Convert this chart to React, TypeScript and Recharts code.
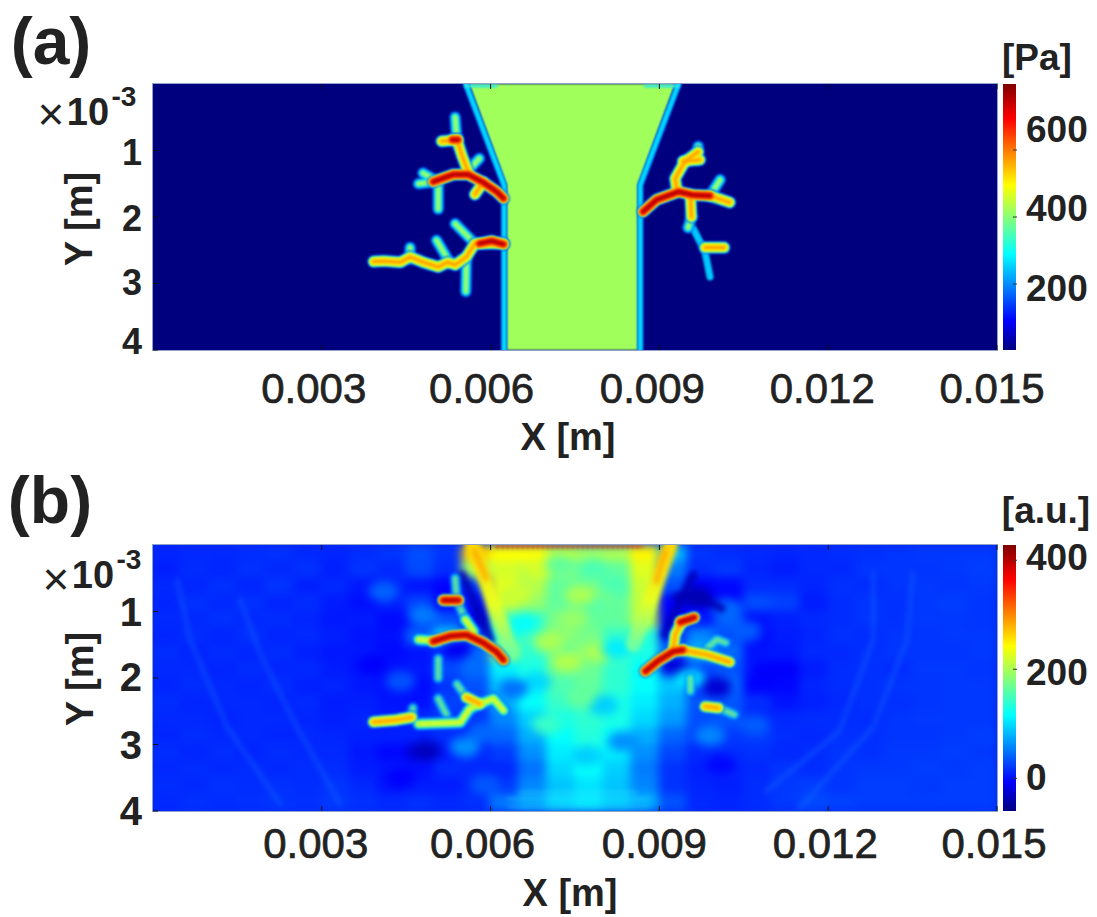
import { Area, ComposedChart, Line, Scatter, XAxis, YAxis } from 'recharts';

// all x values are in mm, the tick formatter turns them back into metres
const xTicks = [3, 6, 9, 12, 15];
const yTicks = [1, 2, 3, 4];

type Pt = [number, number];

// ---- panel (a) ----
const plumeA: Pt[] = [[5.62, 0], [6.28, 1.52], [6.28, 4], [8.62, 4], [8.62, 1.52], [9.28, 0]];
const plumeEdgeLeftA: Pt[] = [[5.56, 0], [6.24, 1.52], [6.24, 4]];
const plumeEdgeRightA: Pt[] = [[9.34, 0], [8.66, 1.52], [8.66, 4]];
const plumeTopLeftA: Pt[] = [[5.56, 0.03], [6.1, 0.03]];
const plumeTopRightA: Pt[] = [[8.75, 0.03], [9.34, 0.03]];

const hotA: Pt[][] = [
  [[4.98, 1.47], [5.34, 1.36], [5.6, 1.36], [5.87, 1.48], [6.11, 1.62], [6.23, 1.72]],
  [[8.71, 1.92], [8.95, 1.74], [9.34, 1.62], [9.6, 1.67], [9.9, 1.68]],
  [[5.32, 0.84], [5.42, 0.84]],
  [[5.8, 2.4], [6.02, 2.36], [6.23, 2.41]],
];
const warmA: Pt[][] = [
  [[5.4, 0.84], [5.49, 1.07], [5.6, 1.32]],
  [[5.87, 1.48], [5.72, 1.66]],
  [[6.23, 2.4], [5.72, 2.4], [5.57, 2.6], [5.37, 2.72], [5.24, 2.68], [5.07, 2.75], [4.8, 2.68], [4.57, 2.6], [4.4, 2.68], [4.1, 2.66], [3.92, 2.67]],
  [[9.9, 1.68], [10.25, 1.78]],
  [[9.31, 1.59], [9.28, 1.42], [9.45, 1.17], [9.69, 1.02]],
  [[9.42, 1.16], [9.72, 1.14]],
  [[9.55, 1.67], [9.57, 2.0]],
  [[9.81, 2.46], [10.15, 2.46]],
  [[5.13, 0.86], [5.4, 0.84]],
];
const coolA: Pt[][] = [
  [[5.37, 0.5], [5.4, 0.84]],
  [[4.72, 1.5], [5.0, 1.47]],
  [[4.8, 1.34], [4.98, 1.43]],
  [[5.07, 1.5], [5.07, 1.88]],
  [[5.37, 2.1], [5.72, 2.4]],
  [[5.04, 2.35], [5.25, 2.65]],
  [[4.57, 2.46], [4.57, 2.62]],
  [[5.57, 2.6], [5.56, 3.12]],
  [[9.9, 1.68], [10.08, 1.44]],
  [[9.69, 0.94], [9.66, 1.14]],
  [[9.57, 2.0], [9.51, 2.16]],
  [[5.6, 1.3], [5.8, 1.12]],
];
const faintA: Pt[][] = [
  [[9.6, 2.17], [9.81, 2.52], [9.9, 2.9]],
];

// ---- panel (b) ----
// a.u. readings on a 0.5 mm x 0.25 grid, one row per depth
const heatRows: number[][] = [
  [18, 20, 20, 22, 24, 20, 18, 22, 26, 38, 26, 270, 245, 245, 215, 200, 205, 250, 90, 26, 22, 20, 18, 20, 22, 24, 26, 28, 28, 28],
  [16, 22, 18, 24, 20, 24, 16, 26, 20, 36, 22, 200, 225, 215, 190, 175, 170, 230, 60, 22, 28, 18, 14, 20, 20, 26, 26, 26, 28, 30],
  [20, 18, 24, 18, 26, 16, 20, 12, 18, 10, 2, 30, 230, 210, 170, 170, 150, 220, 40, 0, 4, 22, 22, 18, 24, 22, 26, 28, 26, 28],
  [18, 24, 20, 24, 18, 22, 14, 8, 16, 32, 0, 10, 220, 195, 170, 165, 170, 215, 0, -5, 0, 38, 32, 14, 22, 26, 24, 28, 30, 26],
  [20, 20, 24, 20, 22, 18, 12, 14, 6, 8, 40, -10, 160, 150, 180, 170, 170, 210, -5, 12, 48, 10, 16, 20, 22, 26, 24, 28, 28, 26],
  [18, 22, 18, 24, 18, 20, 16, 10, 8, 48, 100, 30, 135, 155, 190, 180, 150, 140, 22, 65, 38, 6, 14, 18, 24, 22, 26, 26, 28, 28],
  [22, 18, 22, 18, 22, 16, 12, 12, 6, 10, 22, 52, 200, 145, 170, 190, 160, 135, 52, 95, 52, 10, 12, 20, 20, 24, 26, 26, 26, 28],
  [20, 20, 18, 22, 18, 20, 14, 10, 10, 12, 36, 52, 115, 135, 170, 175, 145, 125, 52, 32, 42, 12, 0, 14, 22, 24, 22, 28, 28, 26],
  [18, 22, 20, 18, 22, 16, 18, 12, 8, 6, 26, 40, 100, 125, 160, 170, 145, 125, 95, 22, 52, 2, 4, 18, 22, 24, 26, 26, 28, 28],
  [22, 18, 20, 20, 18, 20, 14, 16, 10, 8, 32, 32, 85, 125, 150, 155, 135, 115, 85, 42, 42, 22, 10, 16, 20, 24, 24, 26, 28, 28],
  [20, 20, 18, 20, 20, 18, 16, 18, 12, 22, 28, 26, 65, 100, 135, 145, 135, 105, 75, 38, 42, 18, 20, 22, 22, 22, 26, 28, 28, 28],
  [18, 22, 20, 20, 18, 20, 18, 16, 16, 16, 22, 26, 50, 85, 125, 140, 125, 85, 50, 32, 28, 30, 22, 20, 24, 24, 26, 26, 28, 30],
  [22, 18, 22, 18, 22, 20, 20, 12, 4, -15, 12, 20, 30, 70, 115, 130, 115, 70, 35, 20, 22, 24, 20, 22, 26, 24, 28, 28, 30, 28],
  [20, 22, 20, 22, 20, 22, 22, 14, 12, 8, 22, 20, 20, 55, 105, 125, 100, 60, 25, 16, 18, 20, 26, 22, 26, 28, 28, 30, 28, 30],
  [22, 20, 24, 22, 24, 22, 26, 20, 10, 14, 14, 20, 28, 65, 95, 110, 95, 65, 25, 18, 16, 22, 28, 30, 26, 30, 30, 28, 30, 30],
  [20, 24, 22, 24, 26, 24, 28, 24, 20, 24, 20, 24, 58, 80, 105, 115, 100, 85, 40, 20, 18, 22, 28, 36, 32, 30, 30, 30, 30, 30],
];

// small patches read on top of the coarse grid: x, y, a.u.
const patchesB: [number, number, number][] = [
  [6.46, 0.75, 220], [7.03, 1.46, 205], [7.35, 1.76, 208], [7.94, 1.61, 205], [7.59, 0.75, 205],
  [8.06, 0.65, 185], [6.88, 0.35, 225], [7.47, 1.1, 195], [6.58, 1.18, 125], [6.82, 2.06, 105],
  [8.24, 1.56, 115], [8.0, 2.41, 100], [7.71, 3.17, 100], [7.23, 0.3, 170], [7.83, 0.35, 160],
  [6.4, 2.16, 55], [8.18, 0.6, 160], [5.4, 1.56, -5], [4.86, 3.09, -30], [10.02, 2.14, -20],
  [9.66, 0.78, -35], [9.25, 1.81, -15], [4.8, 1.06, 60], [5.87, 2.82, 50], [5.54, 3.04, 70],
  [9.9, 2.87, 65], [9.54, 2.01, 110], [7.0, 2.7, 150], [7.6, 2.3, 170], [8.35, 2.95, 70],
  [10.2, 0.95, 50], [10.55, 1.3, 45], [4.1, 0.7, 48], [3.9, 1.8, 0], [4.4, 2.05, 40],
  [10.9, 1.9, 0], [10.7, 2.7, 45], [4.4, 3.5, 0], [10.1, 3.3, 4], [5.9, 3.6, 42],
];

const wedgeLeftB: Pt[] = [[5.68, 0], [6.36, 1.6]];
const wedgeRightB: Pt[] = [[9.2, 0], [8.54, 1.5]];
const shadowLeftB: Pt[] = [[5.5, 0.45], [6.0, 1.42]];
const shadowRightB: Pt[] = [[9.6, 0.45], [9.1, 1.35]];
const shadowArcB: Pt[] = [[9.3, 0.78], [9.7, 0.78], [10.1, 0.95]];
const accentLeftB: Pt[] = [[5.72, 0.1], [5.92, 0.5]];
const accentRightB: Pt[] = [[9.1, 0.1], [8.95, 0.55]];
const dottedTopB: Pt[] = [[6.1, 0.025], [8.7, 0.025]];

const ripplesB: Pt[][] = [
  [[0.43, 0.53], [0.66, 1.43], [1.32, 2.74], [2.26, 3.89]],
  [[1.55, 0.83], [1.9, 1.63], [2.56, 2.74], [3.32, 3.89]],
  [[13.5, 0.42], [13.4, 1.43], [12.8, 2.74], [11.5, 3.95]],
  [[12.8, 0.42], [12.8, 1.43], [12.2, 2.8], [10.9, 3.7]],
];
const stripesB: Pt[][] = [
  [[6.5, 3.72], [8.6, 3.72]],
  [[6.3, 3.82], [8.8, 3.82]],
  [[6.3, 3.94], [8.8, 3.94]],
];

const hotB: Pt[][] = [
  [[4.98, 1.45], [5.28, 1.37], [5.57, 1.35], [5.87, 1.47], [6.11, 1.61], [6.23, 1.73]],
  [[5.16, 0.83], [5.43, 0.83]],
  [[8.75, 1.9], [8.98, 1.74], [9.25, 1.6], [9.42, 1.58]],
  [[9.37, 1.16], [9.62, 1.09]],
];
const warmB: Pt[][] = [
  [[3.92, 2.66], [4.33, 2.63], [4.6, 2.59]],
  [[9.42, 1.58], [9.85, 1.65], [10.25, 1.76]],
  [[9.25, 1.55], [9.28, 1.35], [9.4, 1.15]],
  [[5.57, 2.29], [5.81, 2.39]],
  [[9.81, 2.43], [10.05, 2.45]],
];
const mildB: Pt[][] = [
  [[4.72, 2.69], [5.46, 2.67], [5.63, 2.46], [5.81, 2.39], [6.05, 2.31], [6.23, 2.49]],
  [[4.72, 1.42], [5.05, 1.44]],
  [[5.55, 1.12], [5.7, 1.3]],
];
const coolB: Pt[][] = [
  [[5.37, 0.5], [5.4, 0.83], [5.55, 1.12]],
  [[5.4, 2.09], [5.57, 2.29]],
  [[5.07, 2.31], [5.22, 2.56]],
  [[5.07, 1.71], [5.07, 2.0]],
  [[9.85, 1.55], [10.02, 1.42], [10.18, 1.47]],
  [[9.55, 2.0], [9.55, 2.2]],
  [[10.05, 2.45], [10.33, 2.55]],
  [[4.6, 2.59], [4.62, 2.45]],
];

// colour bars
const barATicks = [200, 400, 600];
const barBTicks = [0, 200, 400];
const barADomain: Pt = [3, 797];
const barBDomain: Pt = [-60, 428];
const jetStops: [number, string][] = [
  [0, '#00007f'], [0.11, '#0000ff'], [0.36, '#00ffff'], [0.62, '#ffff00'], [0.87, '#ff0000'], [1, '#7f0000'],
];

const FONT = '"Liberation Sans", Arial, sans-serif';
const INK = '#222';
const PLOT_LEFT = 153;
const PLOT_RIGHT = 997;
const PLOT_H = 266;

const toXY = (pts: Pt[]) => pts.map(([x, y]) => ({ x, y }));
const toBand = (pts: Pt[]) => pts.map(([x, y]) => ({ x, r: [0, y] }));

const jet = (v: number) => {
  const t = Math.min(1, Math.max(0, (v + 60) / 488));
  const ch = (c: number) => Math.round(255 * Math.min(1, Math.max(0, c)));
  const r = 1.5 - Math.abs(4 * t - 3);
  const g = 1.5 - Math.abs(4 * t - 2);
  const b = 1.5 - Math.abs(4 * t - 1);
  return `rgb(${ch(r)},${ch(g)},${ch(b)})`;
};

const heatCells = heatRows.flatMap((row, i) =>
  row.map((v, j) => ({ x: 0.25 + j * 0.5, y: 0.125 + i * 0.25, v })),
);
// repeat the first and last depth past the frame so the blur keeps its colour at the edge
const heatPad = [
  ...heatRows[0].map((v, j) => ({ x: 0.25 + j * 0.5, y: -0.125, v })),
  ...heatRows[15].map((v, j) => ({ x: 0.25 + j * 0.5, y: 4.125, v })),
];
const patchPoints = patchesB.map(([x, y, v]) => ({ x, y, v }));

const Txt = ({ left, top, size, children, rotate, weight = 700 }: any) => (
  <div
    style={{
      position: 'absolute', left, top, fontFamily: FONT, fontSize: size, fontWeight: weight, color: INK,
      lineHeight: 1, whiteSpace: 'nowrap', transform: `translate(-50%,-50%)${rotate ? ` rotate(${rotate}deg)` : ''}`,
    }}
  >
    {children}
  </div>
);

const lines = (sets: Pt[][], stroke: string, strokeWidth: number, prefix: string, opacity = 1) =>
  sets.map((pts, i) => (
    <Line
      key={`${prefix}-${i}`}
      data={toXY(pts)}
      dataKey="y"
      stroke={stroke}
      strokeWidth={strokeWidth}
      strokeOpacity={opacity}
      strokeLinecap="round"
      strokeLinejoin="round"
      dot={false}
      activeDot={false}
      isAnimationActive={false}
    />
  ));

const branchLayers = (hot: Pt[][], warm: Pt[][], mild: Pt[][], cool: Pt[][], coolAlpha: number) => {
  const warmAll = [...hot, ...warm];
  const strong = [...warmAll, ...mild];
  return (
    <>
      {lines(cool, '#0060ff', 12, 'coolhalo', 0.7 * coolAlpha)}
      {lines(cool, '#00d8ff', 9, 'coolcyan', coolAlpha)}
      {lines(cool, '#90ff70', 5, 'coolcore', coolAlpha)}
      {lines(strong, '#0060ff', 13, 'halo', 0.8)}
      {lines(strong, '#00d8ff', 10, 'cyan')}
      {lines(mild, '#90ff60', 7, 'mildcore')}
      {lines(mild, '#e0ff20', 3, 'mildmid')}
      {lines(warmAll, '#a8ff50', 9.5, 'green')}
      {lines(warmAll, '#ffe800', 7, 'yellow')}
      {lines(warm, '#ffa000', 3, 'warmcore')}
      {lines(hot, '#ff9000', 9, 'orange')}
      {lines(hot, '#f01000', 6, 'red')}
      {lines(hot, '#a00000', 2, 'dark')}
    </>
  );
};

const makeXTick = (top: number, labelY: number, dx: number[]) => ({ x, payload, index }: any) => (
  <g>
    <line x1={x} x2={x} y1={top} y2={top + 5} stroke="#111" />
    <line x1={x} x2={x} y1={top + PLOT_H - 5} y2={top + PLOT_H} stroke="#111" />
    <text
      x={x + dx[index]}
      y={labelY}
      textAnchor="middle"
      dominantBaseline="central"
      fontFamily={FONT}
      fontWeight={400}
      fontSize={42}
      fill={INK}
      stroke={INK}
      strokeWidth={0.7}
    >
      {(payload.value / 1000).toFixed(3)}
    </text>
  </g>
);

const makeYTick = (labelY: number[], size: number) => ({ y, payload, index }: any) => (
  <g>
    <line x1={PLOT_LEFT} x2={PLOT_LEFT + 5} y1={y} y2={y} stroke="#111" />
    <text x={142} y={labelY[index]} textAnchor="end" dominantBaseline="central" fontFamily={FONT} fontWeight={700} fontSize={size} fill={INK}>
      {payload.value}
    </text>
  </g>
);

const Axes = ({ top, labelY, dx, yLabels, ySize }: any) => (
  <>
    <XAxis
      type="number"
      dataKey="x"
      domain={[0, 15]}
      ticks={xTicks}
      allowDataOverflow
      axisLine={false}
      tickLine={false}
      height={50}
      interval={0}
      tick={makeXTick(top, labelY, dx)}
    />
    <YAxis
      type="number"
      dataKey="y"
      domain={[0, 4]}
      ticks={yTicks}
      reversed
      allowDataOverflow
      axisLine={false}
      tickLine={false}
      width={40}
      interval={0}
      tick={makeYTick(yLabels, ySize)}
    />
  </>
);

const chartProps = (top: number, bottom = 10) => ({
  width: 1097,
  height: top + PLOT_H + 60,
  margin: { left: PLOT_LEFT - 40, right: 1097 - PLOT_RIGHT, top, bottom },
});

const ColorBar = ({ top, id, domain, ticks, labelY }: any) => (
  <div style={{ position: 'absolute', left: 990, top: 0 }}>
    <ComposedChart width={107} height={top + PLOT_H + 10} margin={{ left: 13, right: 0, top, bottom: 10 }}>
      <defs>
        <linearGradient id={id} x1="0" y1="1" x2="0" y2="0">
          {jetStops.map(([o, c]) => (
            <stop key={o} offset={o} stopColor={c} />
          ))}
        </linearGradient>
      </defs>
      <XAxis type="number" dataKey="x" domain={[0, 1]} hide />
      <YAxis
        type="number"
        yAxisId="bar"
        orientation="right"
        domain={domain}
        ticks={ticks}
        width={81}
        axisLine={false}
        tickLine={false}
        interval={0}
        tick={({ y, payload, index }: any) => (
          <g>
            <line x1={23} x2={27} y1={y} y2={y} stroke="#333" />
            <text x={36} y={labelY[index]} dominantBaseline="central" fontFamily={FONT} fontWeight={700} fontSize={37} fill={INK}>
              {payload.value}
            </text>
          </g>
        )}
      />
      <Area
        yAxisId="bar"
        data={[{ x: 0, r: domain }, { x: 1, r: domain }]}
        dataKey="r"
        fill={`url(#${id})`}
        fillOpacity={1}
        stroke="none"
        dot={false}
        activeDot={false}
        isAnimationActive={false}
      />
    </ComposedChart>
  </div>
);

const frame = (top: number, background: string) => ({
  position: 'absolute' as const,
  left: PLOT_LEFT,
  top,
  width: PLOT_RIGHT - PLOT_LEFT,
  height: PLOT_H,
  background,
  overflow: 'hidden',
  boxShadow: '0 0 0 1px #8fa3c8',
});

const TOP_A = 84;
const TOP_B = 545;

export default function App() {
  return (
    <div style={{ position: 'absolute', left: 0, top: 0, width: 1097, height: 917, background: '#fff', overflow: 'hidden' }}>
      <style>{`.soft .recharts-line-curve,.soft .recharts-area-area{filter:blur(1.1px)}.softer .recharts-line-curve{filter:blur(1.8px)}.soft2 .recharts-line-curve{filter:blur(2.5px)}`}</style>

      {/* panel a */}
      <div style={frame(TOP_A, '#00007f')} />
      <div className="soft" style={{ position: 'absolute', left: 0, top: 0 }}>
        <ComposedChart {...chartProps(TOP_A)}>
          <Axes top={TOP_A} labelY={388} dx={[-8, -9, -7, -6, -5]} yLabels={[152, 218, 282, 341]} ySize={36} />
          <Area data={toBand(plumeA)} dataKey="r" fill="#a0ff5a" fillOpacity={1} stroke="none" dot={false} activeDot={false} isAnimationActive={false} />
          {lines([plumeEdgeLeftA, plumeEdgeRightA], '#0070ff', 6, 'edgeBlue')}
          {lines([plumeEdgeLeftA, plumeEdgeRightA], '#00e0ff', 4, 'edgeCyan')}
          {lines([plumeTopLeftA, plumeTopRightA], '#30e8e0', 3, 'edgeTop')}
          {lines(faintA, '#00c8ff', 7, 'faint')}
          {branchLayers(hotA, warmA, [], coolA, 1)}
        </ComposedChart>
      </div>

      {/* panel b: blurred field first, sharp marks on top */}
      <div style={frame(TOP_B, '#0028f5')}>
        <div style={{ filter: 'blur(5px)' }}>
          <ComposedChart width={PLOT_RIGHT - PLOT_LEFT} height={PLOT_H} margin={{ left: 0, right: 0, top: 0, bottom: 0 }}>
            <XAxis type="number" dataKey="x" domain={[0, 15]} hide allowDataOverflow />
            <YAxis type="number" dataKey="y" domain={[0, 4]} reversed hide allowDataOverflow />
            <Scatter
              data={[...heatPad, ...heatCells]}
              isAnimationActive={false}
              shape={({ cx, cy, payload }: any) => (
                <rect x={cx - 15} y={cy - 9} width={30} height={18} fill={jet(payload.v)} />
              )}
            />
            <Scatter
              data={patchPoints}
              isAnimationActive={false}
              shape={({ cx, cy, payload }: any) => (
                <ellipse cx={cx} cy={cy} rx={15} ry={10} fill={jet(payload.v)} />
              )}
            />
          </ComposedChart>
        </div>
      </div>
      <svg width={0} height={0} style={{ position: 'absolute' }}>
        <defs>
          <linearGradient id="wedgeFade" x1="0" y1="0" x2="0" y2="1">
            <stop offset="0%" stopColor="#ffd800" />
            <stop offset="55%" stopColor="#e8ff20" />
            <stop offset="100%" stopColor="#70ffa0" />
          </linearGradient>
        </defs>
      </svg>
      <div className="soft2" style={{ position: 'absolute', left: 0, top: 0 }}>
        <ComposedChart {...chartProps(TOP_B, 60)}>
          <XAxis type="number" dataKey="x" domain={[0, 15]} hide allowDataOverflow />
          <YAxis type="number" dataKey="y" domain={[0, 4]} reversed width={40} tick={false} axisLine={false} tickLine={false} allowDataOverflow />
          {lines(ripplesB, '#1c78ff', 5, 'ripple', 0.3)}
          {lines([shadowLeftB, shadowRightB, shadowArcB], '#0000b4', 9, 'shadow', 0.8)}
          {lines(stripesB, '#40e0ff', 2, 'stripe', 0.6)}
          {lines([wedgeLeftB, wedgeRightB], 'url(#wedgeFade)', 15, 'wedge')}
          {lines([accentLeftB, accentRightB], '#ff9a00', 6, 'accent', 0.7)}
        </ComposedChart>
      </div>
      <div className="softer" style={{ position: 'absolute', left: 0, top: 0 }}>
        <ComposedChart {...chartProps(TOP_B)}>
          <Axes top={TOP_B} labelY={843} dx={[-6, -8, -5, -3, -3]} yLabels={[612, 677, 745, 811]} ySize={40} />
          {branchLayers(hotB, warmB, mildB, coolB, 0.65)}
          <Line data={toXY(dottedTopB)} dataKey="y" stroke="#e83000" strokeWidth={3} strokeDasharray="3 2" dot={false} activeDot={false} isAnimationActive={false} />
        </ComposedChart>
      </div>

      <ColorBar top={TOP_A} id="jetA" domain={barADomain} ticks={barATicks} labelY={[288, 208, 129]} />
      <ColorBar top={TOP_B} id="jetB" domain={barBDomain} ticks={barBTicks} labelY={[777, 672, 557]} />

      <Txt left={51} top={41} size={66}>(a)</Txt>
      <Txt left={50} top={500} size={66}>(b)</Txt>
      <Txt left={1037} top={57} size={37}>[Pa]</Txt>
      <Txt left={1046} top={510} size={37}>[a.u.]</Txt>
      <Txt left={568} top={437} size={38}>X [m]</Txt>
      <Txt left={570} top={893} size={38}>X [m]</Txt>
      <Txt left={79} top={219} size={38} rotate={-90}>Y [m]</Txt>
      <Txt left={80} top={679} size={38} rotate={-90}>Y [m]</Txt>

      <Txt left={51} top={114} size={46} weight={400}>×</Txt>
      <Txt left={88} top={112} size={38}>10</Txt>
      <Txt left={124} top={97} size={28}>-3</Txt>
      <Txt left={56} top={579} size={46} weight={400}>×</Txt>
      <Txt left={93} top={575} size={38}>10</Txt>
      <Txt left={129} top={560} size={28}>-3</Txt>
    </div>
  );
}
